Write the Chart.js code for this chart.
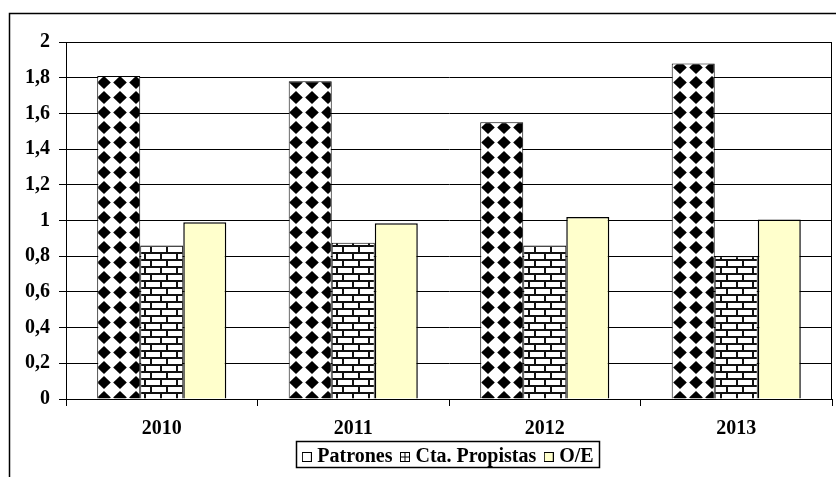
<!DOCTYPE html>
<html>
<head>
<meta charset="utf-8">
<script src="https://cdn.jsdelivr.net/npm/chart.js@4"></script>
<style>
  html, body { margin: 0; padding: 0; background: #fff; }
  #wrap { width: 836px; height: 477px; }
</style>
</head>
<body>
<div id="wrap"><canvas id="chart" width="836" height="477"></canvas></div>
<script>
// Data
const years = ['2010', '2011', '2012', '2013'];
const seriesNames = ['Patrones', 'Cta. Propistas', 'O/E'];
const patrones = [1.81, 1.78, 1.55, 1.88];
const ctaPropistas = [0.86, 0.875, 0.86, 0.80];
const oe = [0.99, 0.985, 1.02, 1.005];
const yTickLabels = ['0', '0,2', '0,4', '0,6', '0,8', '1', '1,2', '1,4', '1,6', '1,8', '2'];

Chart.defaults.font.family = "'Liberation Serif', 'Times New Roman', serif";
Chart.defaults.font.size = 20;
Chart.defaults.font.weight = 'bold';
Chart.defaults.color = '#000';

// Fill patterns
function diamondPattern() {
  const c = document.createElement('canvas');
  c.width = 16; c.height = 15;
  const g = c.getContext('2d');
  g.fillStyle = '#fff';
  g.fillRect(0, 0, 16, 15);
  g.fillStyle = '#000';
  g.beginPath();
  g.moveTo(8, 1);
  g.lineTo(14.8, 7.5);
  g.lineTo(8, 14);
  g.lineTo(1.2, 7.5);
  g.closePath();
  g.fill();
  return g.createPattern(c, 'repeat');
}

function brickPattern() {
  const c = document.createElement('canvas');
  c.width = 16; c.height = 14;
  const g = c.getContext('2d');
  g.fillStyle = '#111';
  g.fillRect(0, 0, 16, 14);
  g.fillStyle = '#fff';
  g.fillRect(2, 2, 14, 5);
  g.fillRect(0, 9, 6, 5);
  g.fillRect(8, 9, 8, 5);
  return g.createPattern(c, 'repeat');
}

// Small legend markers
function marker(fill, cross) {
  const c = document.createElement('canvas');
  c.width = 10; c.height = 10;
  const g = c.getContext('2d');
  g.fillStyle = fill;
  g.fillRect(0.5, 0.5, 9, 9);
  g.strokeStyle = '#000';
  g.lineWidth = 1;
  g.strokeRect(0.5, 0.5, 9, 9);
  if (cross) {
    g.beginPath();
    g.moveTo(0.5, 5); g.lineTo(9.5, 5);
    g.moveTo(5, 0.5); g.lineTo(5, 9.5);
    g.stroke();
  }
  return c;
}
const legendMarks = [marker('#fff', false), marker('#fff', true), marker('#ffffcc', false)];

const framePlugin = {
  id: 'frame',
  afterLayout(chart) {
    // the legend in the reference sits a little right of the canvas centre
    chart.legend.left += 34;
    chart.legend.right += 34;
  },
  beforeDraw(chart) {
    const ctx = chart.ctx;
    ctx.save();
    ctx.strokeStyle = '#000';
    ctx.lineWidth = 1.5;
    ctx.beginPath();
    ctx.moveTo(9.5, 477);
    ctx.lineTo(9.5, 13.5);
    ctx.lineTo(836, 13.5);
    ctx.stroke();
    ctx.restore();
  },
  afterDraw(chart) {
    const ctx = chart.ctx;
    const a = chart.chartArea;
    ctx.save();
    ctx.strokeStyle = '#000';
    ctx.lineWidth = 1;
    ctx.strokeRect(Math.round(a.left) + 0.5, Math.round(a.top) + 0.5, Math.round(a.right - a.left) - 1, Math.round(a.bottom - a.top));
    // legend box
    const boxes = chart.legend.legendHitBoxes;
    if (boxes && boxes.length) {
      const first = boxes[0], last = boxes[boxes.length - 1];
      const l = Math.round(first.left - 10) + 0.5;
      const r = Math.round(last.left + last.width + 5) + 0.5;
      const t = Math.round(first.top - 6) + 0.5;
      const h = Math.round(first.height + 6);
      ctx.lineWidth = 1.5;
      ctx.strokeRect(l, t, r - l, h);
    }
    ctx.restore();
  }
};

new Chart(document.getElementById('chart'), {
  type: 'bar',
  data: {
    labels: years,
    datasets: [
      { label: seriesNames[0], data: patrones, backgroundColor: diamondPattern(), borderColor: '#000', borderWidth: 1 },
      { label: seriesNames[1], data: ctaPropistas, backgroundColor: brickPattern(), borderColor: '#000', borderWidth: 1 },
      { label: seriesNames[2], data: oe, backgroundColor: '#ffffcc', borderColor: '#000', borderWidth: 1.5 }
    ]
  },
  options: {
    responsive: false,
    animation: false,
    categoryPercentage: 0.674,
    barPercentage: 1,
    layout: { padding: { left: 0, right: 4, top: 42, bottom: 0 } },
    plugins: {
      tooltip: { enabled: false },
      legend: {
        position: 'bottom',
        labels: {
          usePointStyle: true,
          boxWidth: 1,
          boxHeight: 10,
          padding: 12,
          generateLabels: chart => chart.data.datasets.map((ds, i) => ({
            text: ds.label,
            pointStyle: legendMarks[i],
            fillStyle: '#fff',
            strokeStyle: '#000',
            lineWidth: 0,
            hidden: false,
            datasetIndex: i,
            fontColor: '#000'
          }))
        }
      }
    },
    scales: {
      x: {
        afterFit: scale => { scale.height = 36; },
        grid: { offset: true, drawOnChartArea: false, tickLength: 7, color: '#000' },
        border: { color: '#000', width: 1 },
        ticks: { padding: 11 }
      },
      y: {
        min: 0,
        max: 2,
        afterFit: scale => { scale.width = 66; },
        ticks: { stepSize: 0.2, padding: 9, callback: (v, i) => yTickLabels[i] },
        grid: { color: '#000', tickLength: 7 },
        border: { color: '#000', width: 1 }
      }
    }
  },
  plugins: [framePlugin]
});
</script>
</body>
</html>
